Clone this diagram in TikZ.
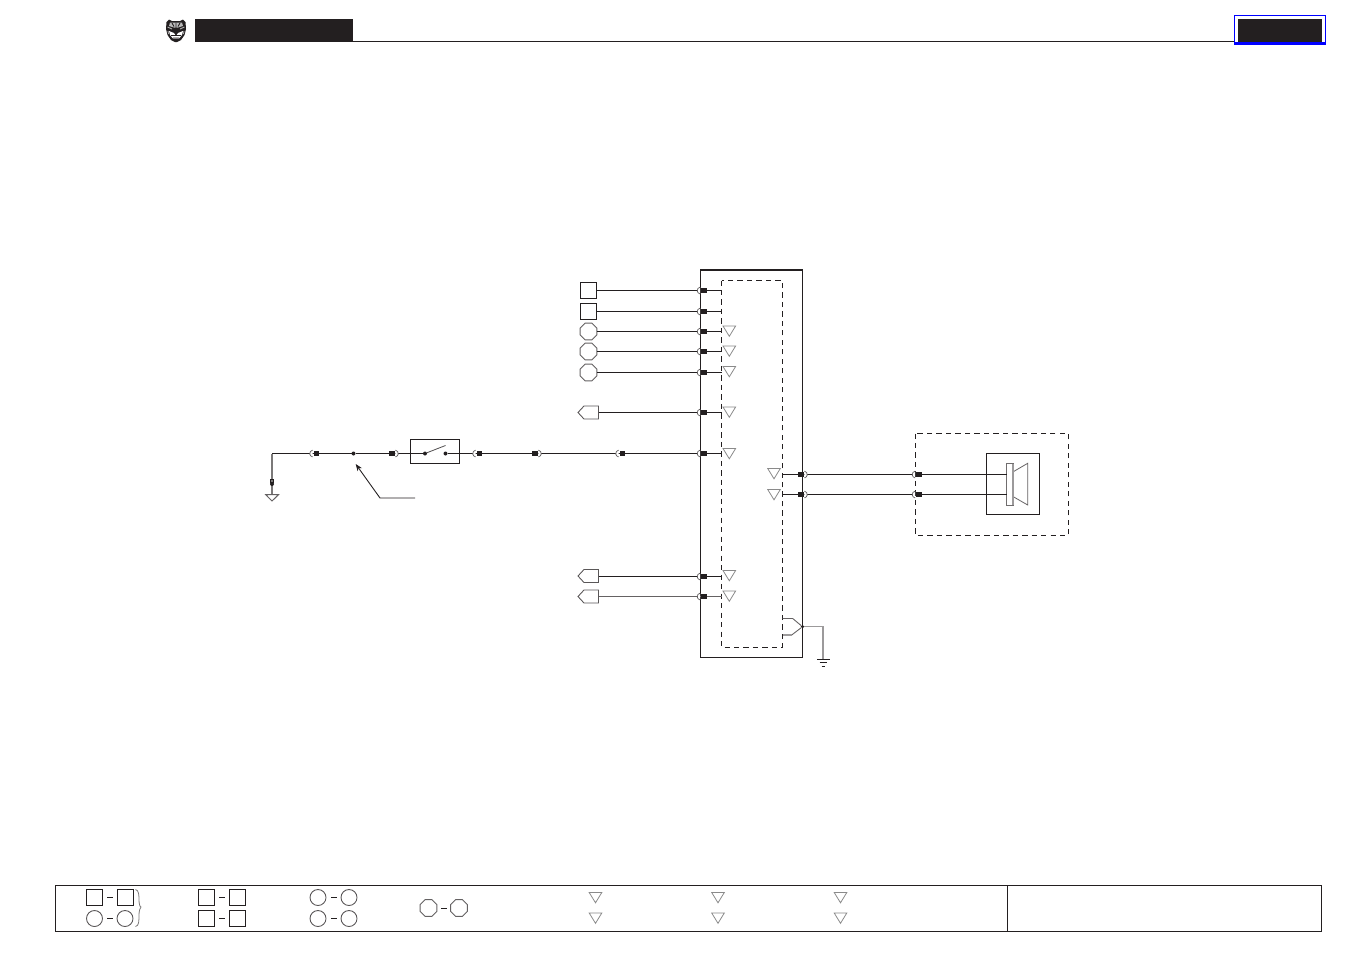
\documentclass[tikz,border=0pt]{standalone}
\usetikzlibrary{arrows.meta,shapes.geometric}
\definecolor{ink}{HTML}{231F20}
\definecolor{pale}{HTML}{8A8A8A}
\tikzset{
  x=0.02cm,y=-0.02cm,
  wire/.style={draw=ink,line width=0.62pt},
  graywire/.style={draw=ink!70,line width=0.62pt},
  dashbox/.style={draw=ink,line width=0.58pt,dash pattern=on 3pt off 2.4pt},
  tri/.style={draw=pale,line width=0.45pt,fill=white},
  sym/.style={draw=ink!75,line width=0.5pt,fill=white},
  sq/.style={rectangle,draw=ink,line width=0.58pt,fill=white,minimum width=0.32cm,minimum height=0.32cm,inner sep=0pt,outer sep=0pt},
  circ/.style={circle,draw=ink!75,line width=0.5pt,fill=white,minimum size=0.32cm,inner sep=0pt,outer sep=0pt},
  octa/.style={regular polygon,regular polygon sides=8,draw=ink!70,line width=0.55pt,fill=white,minimum size=0.36cm,inner sep=0pt,outer sep=0pt},
  dotn/.style={circle,fill=ink,minimum size=0.08cm,inner sep=0pt,outer sep=0pt},
}
% pin with the socket arc on the left
\newcommand{\pinL}[2]{%
  \draw[draw=ink!70,line width=0.42pt,fill=white] (#1+0.6,#2-3.4) arc[start angle=100,end angle=260,radius=0.069cm];
  \fill[ink] (#1+1.5,#2-2.1) rectangle (#1+7,#2+2.5);}
% pin with the socket arc on the right
\newcommand{\pinR}[2]{%
  \draw[draw=ink!70,line width=0.42pt,fill=white] (#1-0.6,#2-3.4) arc[start angle=80,end angle=-80,radius=0.069cm];
  \fill[ink] (#1-7,#2-2.1) rectangle (#1-1.5,#2+2.5);}
\newcommand{\trig}[2]{\draw[tri] (#1-6.3,#2-5) -- (#1+6.3,#2-5) -- (#1,#2+5.3) -- cycle;}
\begin{document}
\begin{tikzpicture}
\useasboundingbox (0,0) rectangle (1350,954);
\fill[white] (0,0) rectangle (1350,954);
% header
\fill[ink] (195,19) rectangle (353,42);
\draw[wire] (353,41.5) -- (1236,41.5);
\draw[draw=blue,line width=0.65pt,fill=white] (1234.5,15.5) rectangle (1325.5,43);
\fill[ink] (1238,19) rectangle (1322,42);
\fill[blue] (1233.5,42.4) rectangle (1326,44.5);
% logo
\fill[ink] (166.5,22) -- (169,19.5) -- (172,21) -- (180,21) -- (183,19.5) -- (185.5,22) -- (186,29) -- (184.5,35) -- (181,40) -- (177,42) -- (175,42) -- (171,40) -- (167.5,35) -- (166,29) -- cycle;
\fill[gray!55] (170,22.5) -- (182,22.5) -- (183,26) -- (178,27.5) -- (174,27.5) -- (169,26) -- cycle;
\fill[white] (169,31) -- (174,33) -- (176,36) -- (178,33) -- (183,31) -- (182,35) -- (179,38.5) -- (173,38.5) -- (170,35) -- cycle;
\draw[ink,line width=0.5pt] (172,23) -- (174,26.5) (176,22.5) -- (176,30) (180,23) -- (178,26.5) (171,35.5) -- (181,35.5) (173,38) -- (179,38);
\draw[gray!60,line width=0.5pt] (167.5,27) -- (172,29) (184.5,27) -- (180,29) (168,31) -- (168.5,34) (184,31) -- (183.5,34);
% module
\coordinate (mTL) at (700.5,270);
\coordinate (mTR) at (802.5,270);
\draw[wire] (700.5,270) rectangle (802.5,657.5);
\draw[draw=ink,line width=1.1pt] (mTL) -- (mTR);
\draw[dashbox] (721.5,280.5) rectangle (782.5,647.5);
% left source nodes
\node[sq] (s1) at (588.5,290.5) {};
\node[sq] (s2) at (588.5,311.5) {};
\node[octa] (o1) at (588.5,331.5) {};
\node[octa] (o2) at (588.5,351.5) {};
\node[octa] (o3) at (588.5,372.5) {};
\coordinate (m1) at (721.5,290.5);
\coordinate (m2) at (721.5,311.5);
\coordinate (m3) at (721.5,331.5);
\coordinate (m4) at (721.5,351.5);
\coordinate (m5) at (721.5,372.5);
\coordinate (m6) at (721.5,412.5);
\coordinate (m7) at (721.5,453.5);
\coordinate (m8) at (721.5,576.5);
\coordinate (m9) at (721.5,596.5);
\draw[wire] (s1.east) -- (m1);
\draw[wire] (s2.east) -- (m2);
\draw[wire] (o1.east) -- (m3);
\draw[wire] (o2.east) -- (m4);
\draw[wire] (o3.east) -- (m5);
% pentagon connectors
\coordinate (p1) at (598.5,412.5);
\coordinate (p2) at (598.5,576.5);
\coordinate (p3) at (598.5,596.5);
\foreach \c/\yy in {p1/412.5,p2/576,p3/596.5}{
  \draw[sym] (578,\yy) -- (584,\yy-6.5) -- (598.5,\yy-6.5) -- (598.5,\yy+6.5) -- (584,\yy+6.5) -- cycle;
}
\draw[wire] (p1) -- (m6);
\draw[wire] (p2) -- (m8);
\draw[graywire] (p3) -- (m9);
% earth on the left and main wire
\coordinate (gl) at (272,453.5);
\coordinate (gd) at (272,494.5);
\node[dotn] (splice) at (353.5,453.5) {};
\node[rectangle,draw=ink,line width=0.58pt,fill=white,minimum width=0.98cm,minimum height=0.48cm,inner sep=0pt,outer sep=0pt] (sw) at (435,451.5) {};
\node[dotn] (c1) at (425,453.5) {};
\node[dotn] (c2) at (445.5,453.5) {};
\draw[wire] (gl) -- (splice) -- (sw.west |- gl);
\draw[draw=ink!60,line width=0.6pt] (gl) -- (gd);
\draw[wire] (sw.west |- gl) -- (c1);
\draw[wire] (c2) -- (sw.east |- gl);
\draw[wire] (sw.east |- gl) -- (m7);
\draw[draw=ink!80,line width=0.45pt] (c1) -- (445.5,445.5);
\draw[tri,draw=ink!70,line width=0.55pt] (265.8,494.7) -- (278.5,494.7) -- (272,501) -- cycle;
\draw[draw=ink,line width=0.4pt] (270.8,479.5) rectangle (273.2,482.5);
\node[dotn] (gdot) at (272,484) {};
% leader
\coordinate (la) at (415,498);
\coordinate (lb) at (380,498);
\coordinate (lc) at (355.7,464);
\draw[draw=ink,line width=0.5pt,-{Stealth[length=4pt,width=3pt]}] (la) -- (lb) -- (lc);
% pins on the main wire
\pinL{312}{453.5}
\pinR{396}{453.5}
\pinL{475}{453.5}
\pinR{539}{453.5}
\pinL{618}{453.5}
\foreach \yy in {290.5,311.5,331.5,351.5,372.5,412.5,453.5,576.5,596.5}{\pinL{699.5}{\yy}}
% triangles in module
\foreach \yy in {331,351,371.5,412,453.5,575.5,596}{\trig{729.3}{\yy}}
\trig{774}{473.5}
\trig{774}{494.5}
% speaker
\draw[dashbox] (915.5,433.5) rectangle (1068.5,535.5);
\node[rectangle,draw=ink,line width=0.58pt,minimum width=1.06cm,minimum height=1.22cm,inner sep=0pt,outer sep=0pt] (spk) at (1013,484) {};
\node[rectangle,draw=ink!65,line width=0.5pt,fill=white,minimum width=0.13cm,minimum height=0.83cm,inner sep=0pt,outer sep=0pt] (coil) at (1010,484.2) {};
\draw[draw=ink!70,line width=0.45pt] (1013.3,471.7) -- (1027.7,463.3) -- (1027.7,505) -- (1013.3,496.7);
\draw[draw=ink!45,line width=0.8pt] (1013,464) -- (1013,505);
\coordinate (a1) at (782.5,474.5);
\coordinate (a2) at (782.5,494.5);
\coordinate (b1) at (1006.7,474.5);
\coordinate (b2) at (1006.7,494.5);
\draw[wire] (a1) -- (b1);
\draw[wire] (a2) -- (b2);
\pinR{805}{474.5}
\pinR{805}{494.5}
\pinL{914.5}{474.5}
\pinL{914.5}{494.5}
% module earth
\node[dotn,minimum size=0.07cm] (me) at (802.5,626.7) {};
\coordinate (eg) at (823,659.5);
\draw[draw=ink!70,line width=0.5pt] (782.5,618.5) -- (792.7,618.5) -- (me) -- (791.7,635);
\draw[draw=ink!45,line width=0.8pt] (791.7,635) -- (782.5,635);
\draw[draw=ink!45,line width=0.6pt] (me) -- (823,626.7) -- (eg);
\draw[draw=ink,line width=0.5pt] (817,659.5) -- (829.5,659.5);
\draw[draw=ink,line width=0.5pt] (819.5,662.5) -- (827,662.5);
\draw[draw=ink,line width=0.5pt] (821.5,666.5) -- (825,666.5);
% footer
\draw[draw=ink,line width=0.62pt] (55.5,885.5) rectangle (1321.5,931.5);
\draw[draw=ink,line width=0.62pt] (1007.5,885.5) -- (1007.5,931.5);
\node[sq] (f1) at (94.5,897.5) {};
\node[sq] (f2) at (125.5,897.5) {};
\node[circ] (f3) at (94.5,918.5) {};
\node[circ] (f4) at (125,918.5) {};
\draw[draw=ink!60,line width=0.45pt] (135.5,889.5) .. controls (139,890) and (139,896) .. (139,900) .. controls (139,904) and (140,907) .. (141,907) .. controls (140,908) and (139,911) .. (139,915) .. controls (139,921) and (139,926) .. (135.5,926.5);
\node[sq] (f5) at (206.5,897.5) {};
\node[sq] (f6) at (237.5,897.5) {};
\node[sq] (f7) at (206.5,918.5) {};
\node[sq] (f8) at (237.5,918.5) {};
\node[circ] (f9) at (318,897.5) {};
\node[circ] (f10) at (349,897.5) {};
\node[circ] (f11) at (318,918.5) {};
\node[circ] (f12) at (349,918.5) {};
\node[octa] (f13) at (428.5,908) {};
\node[octa] (f14) at (459,908) {};
\foreach \a/\b in {f1/f2,f3/f4,f5/f6,f7/f8,f9/f10,f11/f12,f13/f14}{
  \path (\a) -- node[pos=0.5,rectangle,fill=ink,minimum width=0.12cm,minimum height=0.018cm,inner sep=0pt] {} (\b);
}
\foreach \xx in {595.5,718,840.5}{\trig{\xx}{897.5}\trig{\xx}{918}}
\end{tikzpicture}
\end{document}
